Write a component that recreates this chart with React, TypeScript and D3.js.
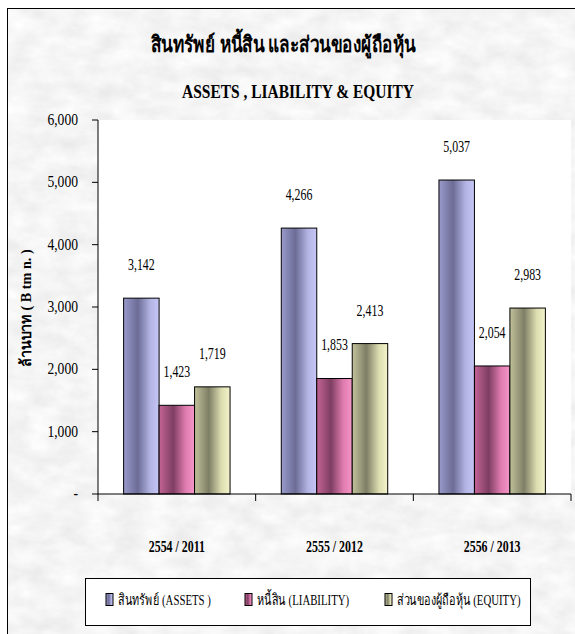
import React from "react";
import * as d3 from "d3";

const categories = ["2554 / 2011", "2555 / 2012", "2556 / 2013"];
const seriesNames = ["สินทรัพย์ (ASSETS )", "หนี้สิน (LIABILITY)", "ส่วนของผู้ถือหุ้น  (EQUITY)"];
const assets = [3142, 4266, 5037];
const liability = [1423, 1853, 2054];
const equity = [1719, 2413, 2983];
const yTicks = [0, 1000, 2000, 3000, 4000, 5000, 6000];
const titleTh = "สินทรัพย์ หนี้สิน และส่วนของผู้ถือหุ้น";
const titleEn = "ASSETS , LIABILITY & EQUITY";
const yTitle = "ล้านบาท ( B tm n. )";

const seriesValues = [assets, liability, equity];
const grads = [
  ["#9a9acc", "#6c6c96", "#b4b4e4", "#c6c6f6"],
  ["#c46496", "#7e3e62", "#e07cb0", "#f496c8"],
  ["#c2c29c", "#7e7e66", "#dcdcb0", "#f4f4cc"],
];

const FONT = "'Liberation Serif', 'Times New Roman', serif";

function T({ x, y, sx = 1, anchor = "middle", size = 15, bold = false, rotate = 0, children }: any) {
  return (
    <text
      transform={`translate(${x},${y}) rotate(${rotate}) scale(${sx},1)`}
      textAnchor={anchor}
      fontFamily={FONT}
      fontSize={size}
      fontWeight={bold ? "bold" : "normal"}
      fill="#000"
    >
      {children}
    </text>
  );
}

export default function App() {
  const W = 575, H = 634;
  const left = 98, right = 571, top = 120, bottom = 494;
  const x0 = d3.scaleBand<string>().domain(categories).range([left, right]).padding(0);
  const step = x0.bandwidth();
  const x1 = d3.scaleBand<number>().domain([0, 1, 2]).range([step * 0.1625, step * 0.8375]).padding(0);
  const y = d3.scaleLinear().domain([0, 6000]).range([bottom, top]);
  const fmt = d3.format(",");

  const legendX = [106, 245, 385];

  return (
    <svg width={W} height={H} style={{ position: "absolute", left: 0, top: 0 }}>
      <defs>
        <filter id="marble" x="0" y="0" width="100%" height="100%">
          <feTurbulence type="fractalNoise" baseFrequency="0.035 0.06" numOctaves="4" seed="3" />
          <feColorMatrix type="matrix" values="0.22 0 0 0 0.8  0.22 0 0 0 0.8  0.22 0 0 0 0.8  0 0 0 0 1" />
        </filter>
        {grads.map((g, i) => (
          <linearGradient key={i} id={`g${i}`} x1="0" x2="1" y1="0" y2="0">
            <stop offset="0%" stopColor={g[0]} />
            <stop offset="40%" stopColor={g[1]} />
            <stop offset="75%" stopColor={g[2]} />
            <stop offset="100%" stopColor={g[3]} />
          </linearGradient>
        ))}
      </defs>
      <rect x={0} y={0} width={W} height={H} fill="#fff" />
      <rect x={7} y={8} width={W} height={H} fill="#e4e4e4" filter="url(#marble)" />
      <rect x={7.5} y={8.5} width={W} height={H} fill="none" stroke="#000" strokeWidth={1} />

      <T x={283} y={52} size={22} bold sx={0.78}>{titleTh}</T>
      <T x={298} y={98} size={18} bold sx={0.86}>{titleEn}</T>

      <rect x={left} y={top} width={right - left} height={bottom - top} fill="#fff" />

      {/* bars */}
      {categories.map((c, ci) => (
        <g key={c}>
          {seriesValues.map((vals, si) => {
            const bx = (x0(c) as number) + (x1(si) as number);
            const bw = x1.bandwidth();
            const v = vals[ci];
            return (
              <g key={si}>
                <rect x={bx} y={y(v)} width={bw} height={bottom - y(v)} fill={`url(#g${si})`} stroke="#000" strokeWidth={1} />
                <T x={bx + bw / 2} y={y(v) - 28} size={17} sx={0.7}>{fmt(v)}</T>
              </g>
            );
          })}
        </g>
      ))}

      {/* y axis */}
      <line x1={left} x2={left} y1={top} y2={bottom} stroke="#000" />
      {yTicks.map((t) => (
        <g key={t}>
          <line x1={left - 6} x2={left} y1={y(t)} y2={y(t)} stroke="#000" />
          <T x={78} y={y(t) + 5} anchor="end" size={16} sx={0.85}>{t === 0 ? "-" : fmt(t)}</T>
        </g>
      ))}
      <T x={31} y={308} size={15} bold sx={0.95} rotate={-90}>{yTitle}</T>

      {/* x axis */}
      <line x1={left} x2={right} y1={bottom} y2={bottom} stroke="#000" />
      {[...categories.map((c) => x0(c) as number), right].map((tx, i) => (
        <line key={i} x1={tx} x2={tx} y1={bottom} y2={bottom + 7} stroke="#000" />
      ))}
      {categories.map((c) => (
        <T key={c} x={(x0(c) as number) + step / 2} y={552} size={17} bold sx={0.7}>{c}</T>
      ))}

      {/* legend */}
      <rect x={85.5} y={578.5} width={445} height={47} fill="#fff" stroke="#000" />
      {seriesNames.map((n, i) => (
        <g key={n}>
          <rect x={legendX[i]} y={593.5} width={7} height={12} fill={`url(#g${i})`} stroke="#000" />
          <T x={legendX[i] + 12} y={605} anchor="start" size={15} sx={0.72}>{n}</T>
        </g>
      ))}
    </svg>
  );
}
